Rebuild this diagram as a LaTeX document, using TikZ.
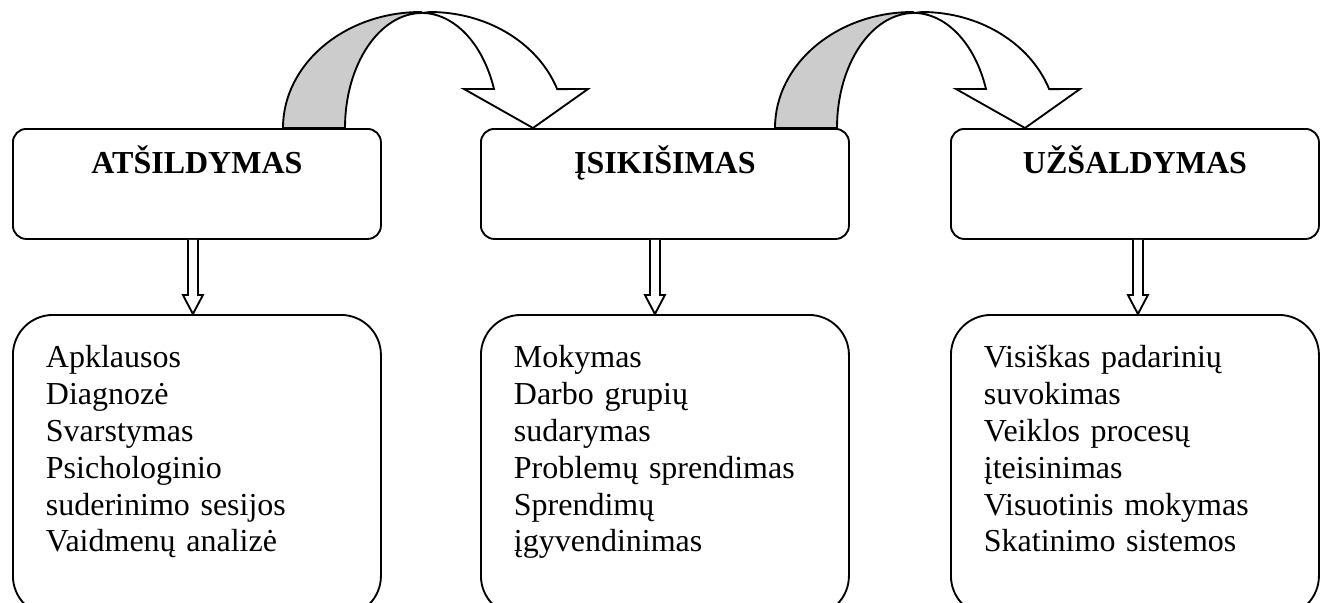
\documentclass[tikz,border=0pt]{standalone}
\usepackage{fontspec}
\setmainfont{Liberation Serif}
\usetikzlibrary{calc}

\tikzset{
    stage/.style={draw,rounded corners=5pt,line width=0.7pt,minimum width=138pt,inner sep=0pt,
        text height=16.875pt,text depth=24.375pt,font=\fontsize{12}{13.8}\selectfont\bfseries},
    steps/.style={draw,rounded corners=15pt,line width=0.7pt,text width=113.25pt,inner xsep=12.375pt,
        inner ysep=0pt,align=left,text height=19.875pt,text depth=93pt,font=\fontsize{12}{13.8}\selectfont},
    hollow/.style={draw,line width=0.7pt,fill=white}
}

\begin{document}
\begin{tikzpicture}[x=0.375pt,y=-0.375pt]

    \useasboundingbox (0,0) rectangle (1325,602);
    \clip (0,0) rectangle (1325,602);

    \node[stage,anchor=north west](t1)at(12,128){ATŠILDYMAS};
    \node[stage,anchor=north west](t2)at(480,128){ĮSIKIŠIMAS};
    \node[stage,anchor=north west](t3)at(950,128){UŽŠALDYMAS};

    \node[steps,anchor=north west](b1)at(12,314){Apklausos\\Diagnozė\\Svarstymas\\Psichologinio\\suderinimo sesijos\\Vaidmenų analizė};
    \node[steps,anchor=north west](b2)at(480,314){Mokymas\\Darbo grupių\\sudarymas\\Problemų sprendimas\\Sprendimų\\įgyvendinimas};
    \node[steps,anchor=north west](b3)at(950,314){Visiškas padarinių\\suvokimas\\Veiklos procesų\\įteisinimas\\Visuotinis mokymas\\Skatinimo sistemos};

    % down arrows
    \foreach \i/\o in {1/-4,2/-10,3/3}
        \draw[hollow] ($(t\i.south)+(\o-5,0)$) -- ($(b\i.north)+(\o-5,-19)$) -- ($(b\i.north)+(\o-10,-19)$) -- ($(b\i.north)+(\o,0)$)
            -- ($(b\i.north)+(\o+10,-19)$) -- ($(b\i.north)+(\o+5,-19)$) -- ($(t\i.south)+(\o+5,0)$);

    % curved arrows between the stages
    \foreach \dx in {0,492}{
        \begin{scope}[shift={(\dx,0)}]
            \filldraw[hollow,fill=black!20] (283,128) arc[start angle=180,end angle=270,x radius=138,y radius=116]
                -- (422,13) arc[start angle=270,end angle=180,x radius=77,y radius=115] -- cycle;
            \filldraw[hollow] (422,13) -- (430,12) arc[start angle=270,end angle=340.4,x radius=135,y radius=116]
                -- (588,89) -- (533,128) -- (464,89) -- (494,89)
                arc[start angle=340.2,end angle=270,x radius=77,y radius=115] -- cycle;
        \end{scope}
    }

\end{tikzpicture}
\end{document}
